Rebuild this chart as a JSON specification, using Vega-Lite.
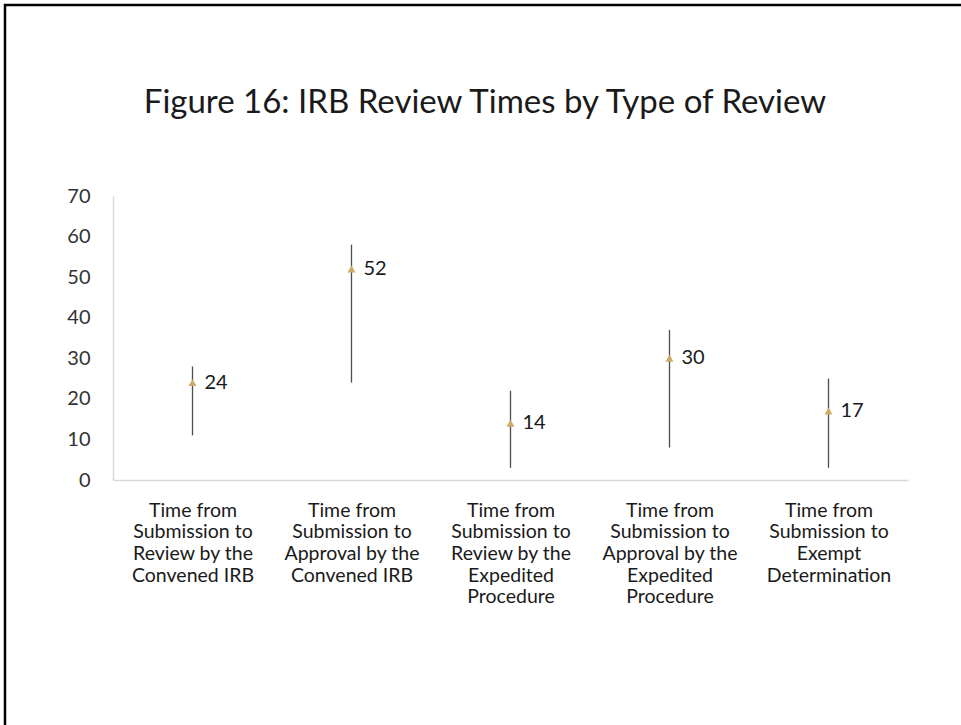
{
  "$schema": "https://vega.github.io/schema/vega-lite/v6.json",
  "width": 960,
  "height": 725,
  "autosize": {"type": "none"},
  "padding": {"left": 5, "top": 5, "right": 0, "bottom": 0},
  "background": "white",
  "title": {
    "text": "Figure 16: IRB Review Times by Type of Review",
    "font": "Lato",
    "fontSize": 33,
    "fontWeight": "normal",
    "color": "#1a1a1a",
    "anchor": "middle",
    "frame": "group",
    "dy": 119
  },
  "data": {
    "values": [
      {"category": "Time from|Submission to|Review by the|Convened IRB", "low": 11, "high": 28, "median": 24},
      {"category": "Time from|Submission to|Approval by the|Convened IRB", "low": 24, "high": 58, "median": 52},
      {"category": "Time from|Submission to|Review by the|Expedited|Procedure", "low": 3, "high": 22, "median": 14},
      {"category": "Time from|Submission to|Approval by the|Expedited|Procedure", "low": 8, "high": 37, "median": 30},
      {"category": "Time from|Submission to|Exempt|Determination", "low": 3, "high": 25, "median": 17}
    ]
  },
  "encoding": {
    "x": {
      "field": "category",
      "type": "nominal",
      "sort": null,
      "title": null,
      "scale": {"type": "point", "range": [108, 903], "padding": 0.5},
      "axis": {
        "labelExpr": "split(datum.label, '|')",
        "labelAngle": 0,
        "labelOverlap": false,
        "labelLimit": 0
      }
    }
  },
  "layer": [
    {
      "mark": {"type": "rule", "color": "#4d4d4d", "strokeWidth": 1.3},
      "encoding": {
        "y": {"field": "low", "type": "quantitative", "title": null, "scale": {"domain": [0, 70], "range": [475, 191], "nice": false}},
        "y2": {"field": "high"}
      }
    },
    {
      "mark": {"type": "point", "shape": "triangle-up", "filled": true, "color": "#CDAA66", "size": 65, "opacity": 1},
      "encoding": {
        "y": {"field": "median", "type": "quantitative", "title": null}
      }
    },
    {
      "mark": {"type": "text", "align": "left", "baseline": "middle", "dx": 12, "font": "Lato", "fontSize": 20, "color": "#1a1a1a"},
      "encoding": {
        "y": {"field": "median", "type": "quantitative", "title": null},
        "text": {"field": "median", "type": "quantitative"}
      }
    }
  ],
  "config": {
    "view": {"stroke": "black", "strokeWidth": 2.5},
    "axisY": {
      "offset": -108,
      "grid": false,
      "ticks": false,
      "domainColor": "#D9D9D9",
      "domainWidth": 1.5,
      "labelFont": "Lato",
      "labelFontSize": 20,
      "labelColor": "#333333",
      "labelPadding": 23,
      "tickCount": 7
    },
    "axisX": {
      "offset": -250,
      "grid": false,
      "ticks": false,
      "domainColor": "#D9D9D9",
      "domainWidth": 1.5,
      "labelFont": "Lato",
      "labelFontSize": 19.5,
      "labelLineHeight": 21.7,
      "labelColor": "#1a1a1a",
      "labelPadding": 21,
      "labelBaseline": "top"
    }
  }
}
